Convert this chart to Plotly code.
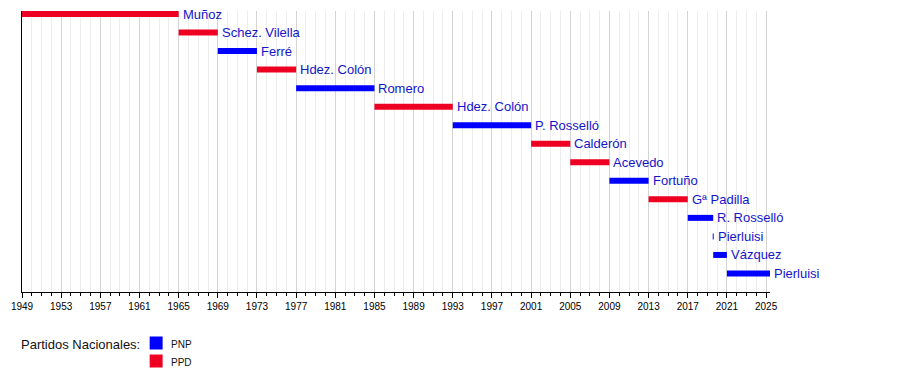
import plotly.graph_objects as go

# ---- data ----
governors = ["Muñoz", "Schez. Vilella", "Ferré", "Hdez. Colón", "Romero", "Hdez. Colón",
             "P. Rosselló", "Calderón", "Acevedo", "Fortuño", "Gª Padilla", "R. Rosselló",
             "Pierluisi", "Vázquez", "Pierluisi"]
start_year = [1949, 1965, 1969, 1973, 1977, 1985, 1993, 2001, 2005, 2009, 2013, 2017,
              2019.55, 2019.6, 2021]
end_year = [1965, 1969, 1973, 1977, 1985, 1993, 2001, 2005, 2009, 2013, 2017, 2019.6,
            2019.65, 2021, 2025.4]
party = ["PPD", "PPD", "PNP", "PPD", "PNP", "PPD", "PNP", "PPD", "PPD", "PNP", "PPD", "PNP",
         "PNP", "PNP", "PNP"]
parties = ["PNP", "PPD"]
party_colors = {"PNP": "#0000FF", "PPD": "#EE0022"}
tick_years = list(range(1949, 2026, 4))
legend_title = "Partidos Nacionales:"

FONT = "Liberation Sans, Arial, sans-serif"
LABEL_COLOR = "#1414C8"
X0, X1 = 1949, 2025.4

fig = go.Figure()
for p in parties:
    xs, ys = [], []
    for i, (s, e, pp) in enumerate(zip(start_year, end_year, party)):
        if pp == p:
            xs += [s, e, None]
            ys += [i, i, None]
    fig.add_trace(go.Scatter(x=xs, y=ys, mode="lines", name=p,
                             line=dict(color=party_colors[p], width=6),
                             cliponaxis=False, showlegend=False, hoverinfo="skip"))

for i, (name, e) in enumerate(zip(governors, end_year)):
    fig.add_annotation(x=(e - X0) / (X1 - X0), xref="paper", y=i, yref="y", text=name,
                       showarrow=False, xanchor="left", yanchor="middle", xshift=2,
                       font=dict(family=FONT, size=13, color=LABEL_COLOR))

# page body adds an 8px offset; compensate via figure size and margins
fig.update_layout(
    width=892, height=362,
    margin=dict(l=12, r=130, t=3, b=78, pad=0),
    paper_bgcolor="white", plot_bgcolor="white",
    showlegend=False,
    xaxis=dict(range=[X0, X1], tickmode="array", tickvals=tick_years,
               ticktext=[str(t) for t in tick_years],
               showgrid=True, gridcolor="#d4d4d4", gridwidth=1,
               minor=dict(dtick=1, tick0=1949, showgrid=True, gridcolor="#ededed",
                          ticks="outside", ticklen=3, tickcolor="black"),
               ticks="outside", ticklen=5, tickcolor="black",
               showline=True, linecolor="black", linewidth=1,
               zeroline=False, tickfont=dict(family=FONT, size=10, color="black")),
    yaxis=dict(range=[15.0, -0.162], showgrid=False, zeroline=False,
               showticklabels=False, ticks="", showline=True, linecolor="black",
               linewidth=1),
)

# legend (positions given in page pixels)
plot_w = 892 - 12 - 130
plot_h = 362 - 3 - 78
def px_x(px):
    return (px - 20) / plot_w
def px_y(py):
    return (292 - py) / plot_h

fig.add_annotation(x=px_x(17), y=px_y(344), xref="paper", yref="paper", text=legend_title,
                   showarrow=False, xanchor="left", yanchor="middle",
                   font=dict(family=FONT, size=13, color="#111111"))
for k, p in enumerate(parties):
    cy = 343 + k * 18
    fig.add_shape(type="rect", xref="paper", yref="paper",
                  x0=px_x(148), x1=px_x(161), y0=px_y(cy - 6.5), y1=px_y(cy + 6.5),
                  fillcolor=party_colors[p], line=dict(width=0))
    fig.add_annotation(x=px_x(167), y=px_y(cy + 1), xref="paper", yref="paper", text=p,
                       showarrow=False, xanchor="left", yanchor="middle",
                       font=dict(family=FONT, size=10, color="#111111"))

fig.write_html("out.html")
